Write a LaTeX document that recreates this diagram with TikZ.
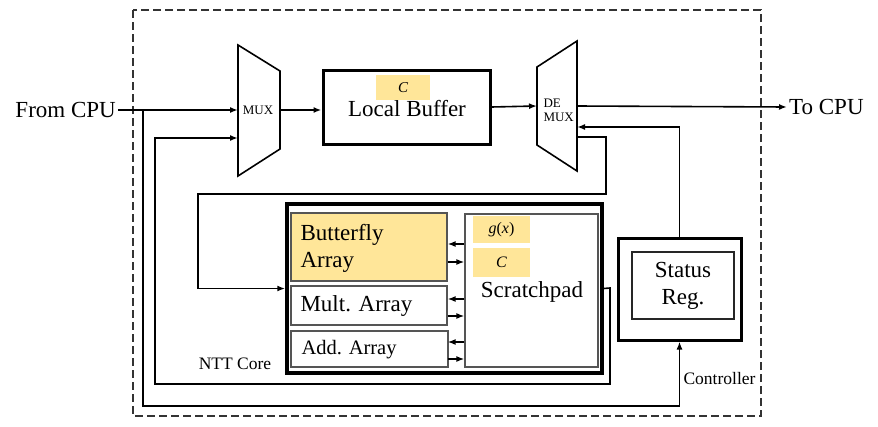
\documentclass[tikz,border=0pt]{standalone}
\usepackage{fontspec}
\setmainfont{LiberationSerif}[Extension=.ttf, UprightFont=*-Regular, ItalicFont=*-Italic, BoldFont=*-Bold]
\newfontfamily\tms{LiberationSerif}[Extension=.ttf, UprightFont=*-Regular, ItalicFont=*-Italic, BoldFont=*-Bold]
\usetikzlibrary{arrows.meta}
\definecolor{hl}{HTML}{FFE699}
\definecolor{edge}{HTML}{555555}
\tikzset{
  every node/.style={font=\tms},
  wire/.style={line width=1.6pt, draw=black},
  arr/.style={-{Latex[length=8pt,width=6pt]}},
  thickbox/.style={draw=black, line width=3pt, inner sep=0pt},
  subbox/.style={draw=edge, line width=1.2pt, inner sep=0pt},
  hlbox/.style={fill=hl, draw=none, inner sep=0pt},
  big/.style={font=\tms\fontsize{23}{27}\selectfont},
  small/.style={font=\tms\fontsize{17.5}{20}\selectfont},
  tiny/.style={font=\tms\fontsize{13}{14}\selectfont},
}
\begin{document}
\begin{tikzpicture}[x=1pt,y=-1pt]
\useasboundingbox (0,0) rectangle (878,426);
% outer dashed frame
\draw[line width=1.1pt, draw=black!80, dash pattern=on 8pt off 4pt] (133,10) rectangle (761,416);

% MUX
\draw[line width=1.6pt] (238,45) -- (280,71) -- (280,149) -- (238,176) -- cycle;
\node[tiny] (muxlbl) at (258,110) {MUX};
\coordinate (muxin1) at (238,110);
\coordinate (muxin2) at (238,138);
\coordinate (muxout) at (280,110);

% DEMUX
\draw[line width=1.6pt] (537,67) -- (577,41) -- (577,171) -- (537,145) -- cycle;
\node[tiny, align=left, anchor=west] (demuxlbl) at (540,110) {DE\\MUX};
\coordinate (demuxin) at (537,106);
\coordinate (demuxout) at (577,106);
\coordinate (demuxin2) at (577,127);
\coordinate (demuxout2) at (577,137);

% Local buffer
\node[thickbox, minimum width=167pt, minimum height=74pt] (lb) at (406.5,107) {};
\node[hlbox, minimum width=54pt, minimum height=25pt, font=\tms\fontsize{15}{16}\selectfont\itshape] (lbc) at (403,87.5) {C};
\node[big] (lbtext) at (407,109) {Local Buffer};

% I/O labels
\node[big, anchor=east, inner sep=2pt] (fromcpu) at (118,110) {From CPU};
\node[big, anchor=west, inner sep=2pt] (tocpu) at (787,107) {To CPU};

% NTT core
\node[thickbox, line width=3.5pt, minimum width=315pt, minimum height=169pt] (ntt) at (444.5,288.5) {};
\node[small] (nttlbl) at (235,364) {NTT Core};

\node[subbox, fill=hl, minimum width=156pt, minimum height=68pt] (bf) at (369,247) {};
\node[big, align=left, anchor=west] (bftext) at (297,248) {Butterfly\\Array};
\node[subbox, minimum width=156pt, minimum height=39pt] (mult) at (369,305.5) {};
\node[big, anchor=west] (multtext) at (297,306) {Mult. Array};
\node[subbox, minimum width=157pt, minimum height=36pt] (add) at (369.5,349) {};
\node[font=\tms\fontsize{20.5}{22}\selectfont, anchor=west] (addtext) at (298,350) {Add. Array};

\node[subbox, minimum width=133pt, minimum height=153pt] (sp) at (531.5,290.5) {};
\node[hlbox, minimum width=57pt, minimum height=27pt, font=\tms\fontsize{16}{17}\selectfont] (gx) at (501.5,229.5) {\textit{g}(\textit{x})};
\node[hlbox, minimum width=57pt, minimum height=29pt, font=\tms\fontsize{16}{17}\selectfont\itshape] (spc) at (501.5,262.5) {C};
\node[big] (sptext) at (532,292) {Scratchpad};

% Status register
\node[thickbox, minimum width=123pt, minimum height=102pt] (status) at (679.5,289) {};
\node[subbox, draw=black!85, minimum width=102pt, minimum height=67pt, big, align=center] (sreg) at (683,285.5) {Status\\Reg.};
\node[small, anchor=west] (ctrl) at (680,379) {Controller};

% connectors
\coordinate (j1) at (143,110);
\coordinate (c1) at (143,406);
\draw[wire, arr] (fromcpu.east) -- (muxin1);
\draw[wire, arr] (j1) -- (c1) -| (status.south);
\draw[wire, arr] (muxout) -- (muxout -| lb.west);
\draw[wire, arr] (lb.east) -- (demuxin);
\draw[wire, arr] (demuxout) -- (tocpu.west);
\draw[wire, arr] (status.north) |- (demuxin2);

\coordinate (d1) at (606,137);
\coordinate (d2) at (606,194);
\coordinate (d3) at (198,194);
\draw[wire, arr] (demuxout2) -- (d1) -- (d2) -- (d3) |- (ntt.west);

\coordinate (n1) at (610,288);
\coordinate (n2) at (610,384);
\coordinate (n3) at (155,384);
\draw[wire, arr] (ntt.east) -- (n1) -- (n2) -- (n3) |- (muxin2);

% scratchpad <-> arrays
\foreach \y in {244,299,342} \draw[wire, arr] (sp.west |- 0,\y) -- (bf.east |- 0,\y);
\foreach \y in {262,316,359} \draw[wire, arr] (bf.east |- 0,\y) -- (sp.west |- 0,\y);
\end{tikzpicture}
\end{document}
